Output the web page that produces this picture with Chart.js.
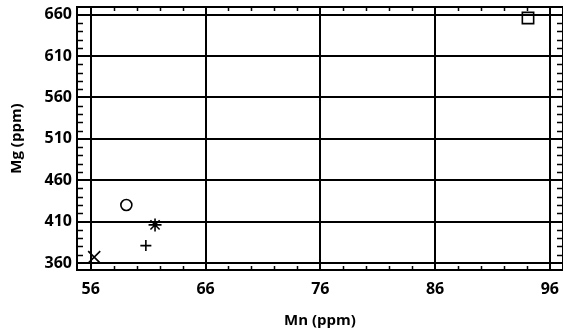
<!DOCTYPE html>
<html>
<head>
<meta charset="utf-8">
<script src="https://cdn.jsdelivr.net/npm/chart.js@4.4.1/dist/chart.umd.min.js"></script>
<style>
  html, body { margin: 0; padding: 0; background: #fff; }
  #wrap { width: 563px; height: 334px; }
</style>
</head>
<body>
<div id="wrap"><canvas id="myChart"></canvas></div>
<script>
// Mn vs Mg (ppm), one marker per sample
const mnValues = [56.3, 59.1, 60.8, 61.6, 94.1];
const mgValues = [367, 430, 381, 406, 656];
const markers = ['crossRot', 'circle', 'cross', 'star', 'rect'];
const markerSizes = [8.5, 5.5, 5.5, 6.5, 8];
const xTicks = [56, 66, 76, 86, 96];
const yTicks = [360, 410, 460, 510, 560, 610, 660];

const points = mnValues.map((x, i) => ({ x: x, y: mgValues[i] }));

// frame + small minor ticks around the plot area
const frame = {
    id: 'frame',
    afterDraw(chart) {
        const ctx = chart.ctx;
        const a = chart.chartArea;
        const xs = chart.scales.x, ys = chart.scales.y;
        ctx.save();
        ctx.strokeStyle = '#000';
        ctx.lineWidth = 2;
        ctx.strokeRect(a.left, a.top, a.right - a.left, a.bottom - a.top);
        ctx.lineWidth = 1.5;
        ctx.beginPath();
        for (let v = 56; v <= 96; v += 2) {
            if (xTicks.includes(v)) continue;
            const px = Math.round(xs.getPixelForValue(v)) + 0.5;
            ctx.moveTo(px, a.bottom); ctx.lineTo(px, a.bottom - 4);
            ctx.moveTo(px, a.top); ctx.lineTo(px, a.top + 4);
        }
        for (let v = 360; v <= 660; v += 10) {
            if (yTicks.includes(v)) continue;
            const py = Math.round(ys.getPixelForValue(v)) + 0.5;
            ctx.moveTo(a.left, py); ctx.lineTo(a.left + 6, py);
            ctx.moveTo(a.right, py); ctx.lineTo(a.right - 6, py);
        }
        ctx.stroke();
        ctx.restore();
    }
};

const ctx = document.getElementById('myChart').getContext('2d');
new Chart(ctx, {
    type: 'scatter',
    data: {
        datasets: [{
            data: points,
            pointStyle: markers,
            pointRadius: markerSizes,
            pointHoverRadius: markerSizes,
            borderColor: '#000',
            backgroundColor: 'rgba(0,0,0,0)',
            borderWidth: 1.6,
            clip: false
        }]
    },
    options: {
        responsive: true,
        maintainAspectRatio: false,
        animation: false,
        layout: { autoPadding: false, padding: { top: 7, right: -1, left: 0, bottom: 0 } },
        plugins: { legend: { display: false }, tooltip: { enabled: false } },
        scales: {
            x: {
                type: 'linear',
                min: 54.8,
                max: 97.15,
                afterBuildTicks: s => { s.ticks = xTicks.map(v => ({ value: v })); },
                afterFit: s => { s.height = 64; s.paddingLeft = 0; s.paddingRight = 0; },
                grid: { color: '#000', lineWidth: 2, drawTicks: false },
                border: { display: false },
                ticks: {
                    color: '#000', padding: 10,
                    font: { family: 'Open Sans', size: 16, weight: 'bold' }
                },
                title: {
                    display: true, text: 'Mn (ppm)', color: '#000',
                    padding: { top: 4, bottom: 4 },
                    font: { family: 'Open Sans', size: 15, weight: 'bold' }
                }
            },
            y: {
                type: 'linear',
                min: 351.5,
                max: 669.3,
                afterBuildTicks: s => { s.ticks = yTicks.map(v => ({ value: v })); },
                afterFit: s => { s.width = 77; s.paddingTop = 0; s.paddingBottom = 0; },
                grid: { color: '#000', lineWidth: 2, drawTicks: false },
                border: { display: false },
                ticks: {
                    color: '#000', padding: 5,
                    font: { family: 'Open Sans', size: 16, weight: 'bold' }
                },
                title: {
                    display: true, text: 'Mg (ppm)', color: '#000',
                    padding: { top: 8, bottom: 8 },
                    font: { family: 'Open Sans', size: 15, weight: 'bold' }
                }
            }
        }
    },
    plugins: [frame]
});
</script>
</body>
</html>
